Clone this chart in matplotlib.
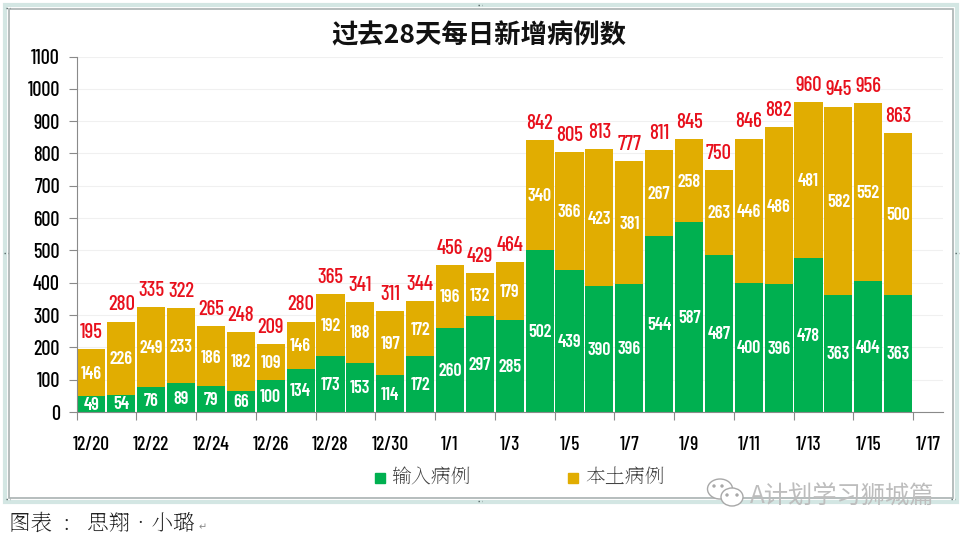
#!/usr/bin/env python3
import matplotlib
matplotlib.use("Agg")
import matplotlib.pyplot as plt
from matplotlib import font_manager as fm
from matplotlib.patches import Rectangle, Ellipse, Circle

names = {f.name for f in fm.fontManager.ttflist}
narrow = "Barlow Condensed" if "Barlow Condensed" in names else "Open Sans"
cjk = "Noto Sans CJK SC"
serif = cjk
for cand in ["Noto Serif CJK SC", "Noto Serif SC", "AR PL UMing CN"]:
    if cand in names:
        serif = cand
        break

dates = ["12/20", "12/22", "12/24", "12/26", "12/28", "12/30", "1/1", "1/3", "1/5",
         "1/7", "1/9", "1/11", "1/13", "1/15", "1/17"]
imported = [49, 54, 76, 89, 79, 66, 100, 134, 173, 153, 114, 172, 260, 297, 285,
            502, 439, 390, 396, 544, 587, 487, 400, 396, 478, 363, 404, 363]
local = [146, 226, 249, 233, 186, 182, 109, 146, 192, 188, 197, 172, 196, 132, 179,
         340, 366, 423, 381, 267, 258, 263, 446, 486, 481, 582, 552, 500]
totals = [195, 280, 335, 322, 265, 248, 209, 280, 365, 341, 311, 344, 456, 429, 464,
          842, 805, 813, 777, 811, 845, 750, 846, 882, 960, 945, 956, 863]
green = "#00b050"
gold = "#e1ad01"

W, H = 965, 538
fig = plt.figure(figsize=(W / 100, H / 100), dpi=100)
bg = fig.add_axes([0, 0, 1, 1])
bg.set_xlim(0, W)
bg.set_ylim(H, 0)
bg.axis("off")

# frame around the chart
bg.add_patch(Rectangle((5, 5), 952, 497, fill=False, ec="#d3e6e3", lw=3))
bg.add_patch(Rectangle((9, 9), 944, 489, fill=False, ec="#a9b2b2", lw=1.2))
for px, py in [(8, 8), (480, 5), (6, 253), (957, 253), (480, 501), (8, 499), (953, 499)]:
    bg.plot([px - 2, px + 2], [py, py], ls=":", color="#556666", lw=1)

ax = fig.add_axes([76.5 / W, (H - 412) / H, (943 - 76.5) / W, (412 - 56.5) / H])
x = list(range(len(imported)))
ax.bar(x, imported, width=0.94, color=green, zorder=2)
ax.bar(x, local, width=0.94, bottom=imported, color=gold, zorder=2)

for i in x:
    ax.text(i, imported[i] / 2 - 5, str(imported[i]), ha="center", va="center",
            color="white", fontsize=13, fontweight=600, family=narrow, zorder=3)
    ax.text(i, imported[i] + local[i] / 2 - 5, str(local[i]), ha="center", va="center",
            color="white", fontsize=13, fontweight=600, family=narrow, zorder=3)
    ax.text(i, imported[i] + local[i] + 22, str(totals[i]), ha="center", va="bottom",
            color="#e8101c", fontsize=15, fontweight=500, family=narrow, zorder=3)

ax.set_xlim(-0.5, 28.5)
ax.set_ylim(0, 1100)
ax.set_yticks(range(0, 1101, 100))
ax.tick_params(axis="y", labelsize=14.5, length=6, color="#8a8a8a", pad=6)
ax.set_xticks([i - 0.5 for i in range(0, 29, 2)])
ax.set_xticklabels([])
ax.tick_params(axis="x", which="major", length=6, color="#8a8a8a")
ax.set_xticks(range(0, 29, 2), minor=True)
ax.set_xticklabels(dates, minor=True, fontsize=14, fontweight=500, family=narrow)
ax.tick_params(axis="x", which="minor", length=0, pad=17)
for lab in ax.get_yticklabels():
    lab.set_family(narrow)
    lab.set_fontweight(500)
ax.grid(True, axis="y", color="#f0f0f0", lw=0.8, zorder=0)
ax.set_axisbelow(True)
for s in ["top", "right"]:
    ax.spines[s].set_visible(False)
for s in ["left", "bottom"]:
    ax.spines[s].set_color("#8a8a8a")

# title, legend, credits in page pixels
bg.text(479, 36, "过去28天每日新增病例数", ha="center", va="center", fontsize=19,
        fontweight="bold", family=[cjk, "DejaVu Sans"], color="#111111")
bg.add_patch(Rectangle((375, 473), 10, 10, color=green))
bg.text(391, 478, "输入病例", va="center", fontsize=14.3, family=serif, color="#444444")
bg.add_patch(Rectangle((568, 473), 10, 10, color=gold))
bg.text(585, 478, "本土病例", va="center", fontsize=14.3, family=serif, color="#444444")
bg.text(9, 524, "图表  :   思翔•小璐", va="center", fontsize=15.5, family=[serif, "DejaVu Sans"],
        color="#222222")
bg.text(199, 527, "↵", va="center", fontsize=7, color="#888888")

# watermark
bg.add_patch(Ellipse((720, 489), 25, 20, fc="white", ec="#a8a8a8", lw=1, zorder=4))
bg.add_patch(Ellipse((732, 497), 22, 18, fc="white", ec="#a8a8a8", lw=1, zorder=5))
for cx, cy in [(714, 486), (722, 486), (727, 495), (737, 495)]:
    bg.add_patch(Circle((cx, cy), 1.0, color="#a8a8a8", zorder=6))
bg.text(750, 496, "A计划学习狮城篇", va="center", fontsize=17.5, family=cjk,
        color="#bdbdbd", zorder=6)

fig.savefig("out.png", dpi=100, facecolor="white")
